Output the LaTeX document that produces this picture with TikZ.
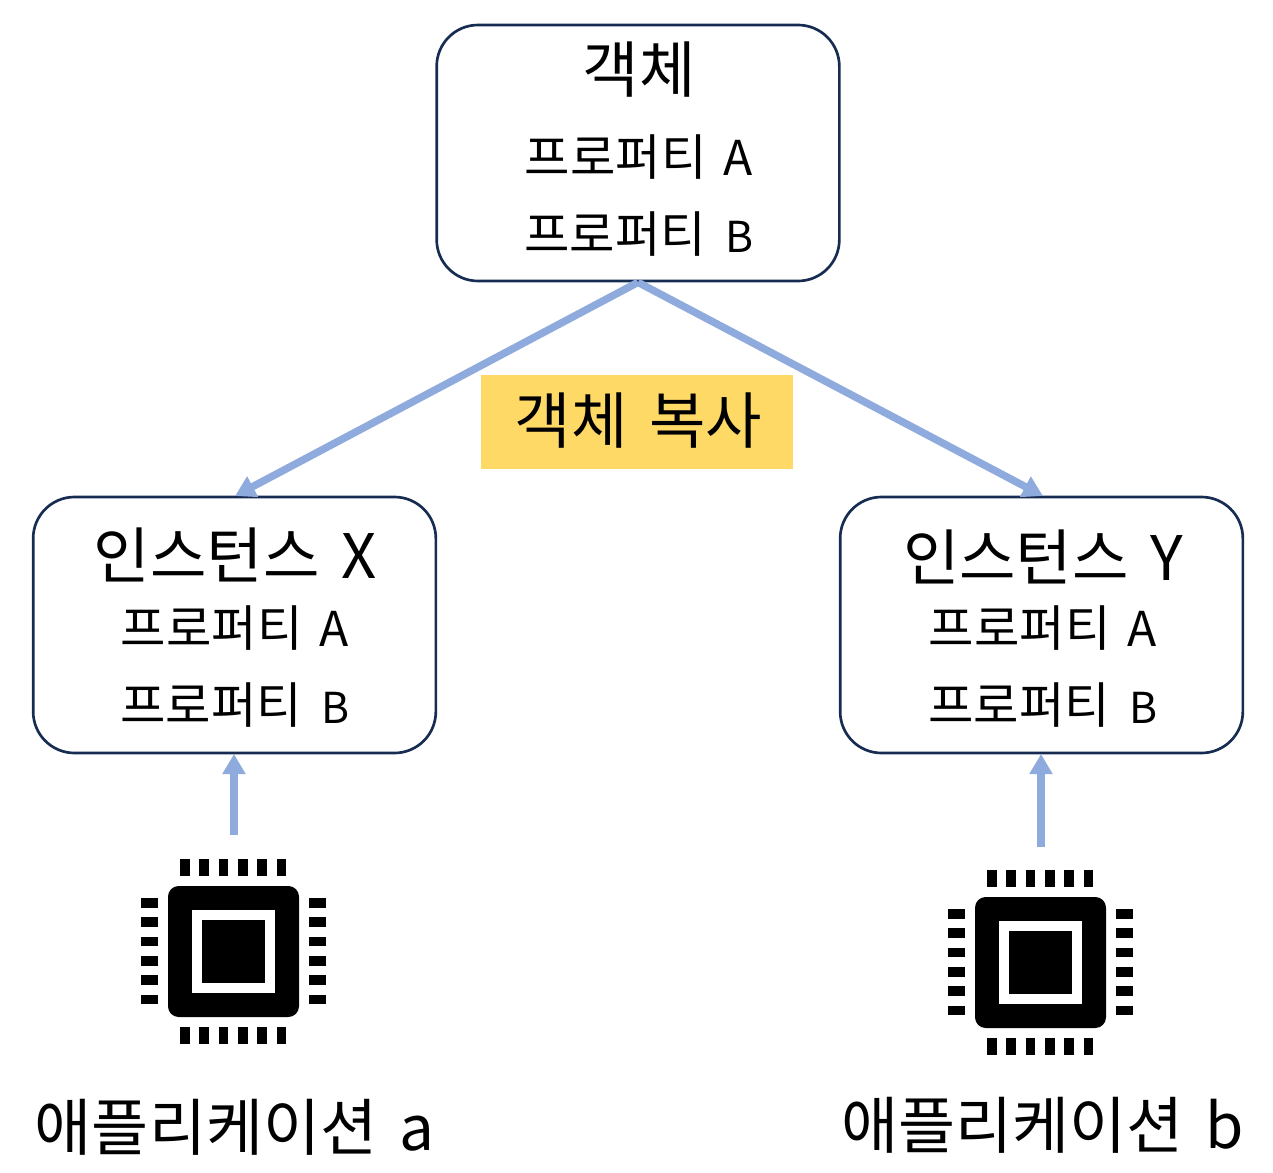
\documentclass[tikz,border=0pt]{standalone}
\usepackage{fontspec}
\setmainfont{Noto Sans CJK KR}
\usetikzlibrary{arrows.meta}
\definecolor{boxline}{HTML}{172C51}
\definecolor{arrowblue}{HTML}{8FAADC}
\definecolor{labelfill}{HTML}{FFD966}
\newcommand{\fsize}[1]{\fontsize{#1}{#1}\selectfont}
\newcommand{\wgap}{\hspace{0.13em}}
\newcommand{\latA}{{\fontsize{36}{36}\selectfont A}}
\newcommand{\latB}{{\fontsize{32}{32}\selectfont\hspace{0.05em}B}}
\tikzset{
  x=0.75pt,y=-0.75pt,
  objbox/.style={draw=boxline,line width=2pt,rounded corners=31pt,fill=white,minimum width=302pt,minimum height=192pt,inner sep=0pt},
  link/.style={draw=arrowblue,line width=5.6pt,-{Triangle[length=15pt,width=16.5pt]}},
  titletext/.style={inner sep=0pt,font=\fsize{46}},
  proptext/.style={inner sep=0pt,font=\fsize{37}},
  apptext/.style={inner sep=0pt,font=\fsize{46.5}},
  chip/.pic={
    \fill[black,rounded corners=8pt] (168,886) rectangle (299,1017);
    \fill[white] (192.3,910) rectangle (275,992.7);
    \fill[black] (202,920) rectangle (265,983);
    \foreach \i in {0,...,5}{
      \fill[black] ({180+19.35*\i},859.3) rectangle ({189.7+19.35*\i},876.3);
      \fill[black] ({180+19.35*\i},1026.7) rectangle ({189.7+19.35*\i},1043.7);
      \fill[black] (141.3,{898+19.35*\i}) rectangle (158.3,{907.7+19.35*\i});
      \fill[black] (308.7,{898+19.35*\i}) rectangle (325.7,{907.7+19.35*\i});
    }
  }
}
\begin{document}
\begin{tikzpicture}
\useasboundingbox (0,0) rectangle (1273,1173);
\node[objbox] (obj) at (638,153) {};
\node[objbox] (instx) at (234.5,625) {};
\node[objbox] (insty) at (1041.5,625) {};
\node[titletext] (objt) at (639,70) {객체};
\node[proptext] (objpa) at (639,157) {프로퍼티\wgap{} \latA};
\node[proptext] (objpb) at (639,234) {프로퍼티\wgap{} \latB};
\node[fill=labelfill,minimum width=234pt,minimum height=70.5pt,inner sep=0pt] (copy) at (637,422) {};
\node[titletext] (copyt) at (638.5,421) {객체\wgap{} 복사};
\node[titletext] (xt) at (235,555) {인스턴스\wgap{} X};
\node[proptext] (xpa) at (235,628) {프로퍼티\wgap{} \latA};
\node[proptext] (xpb) at (235,705) {프로퍼티\wgap{} \latB};
\node[titletext] (yt) at (1043,557) {인스턴스\wgap{} Y};
\node[proptext] (ypa) at (1043,628) {프로퍼티\wgap{} \latA};
\node[proptext] (ypb) at (1043,705) {프로퍼티\wgap{} \latB};
\coordinate (xtop) at (235,496);
\coordinate (ytop) at (1043,496);
\coordinate (appx) at (234,835);
\coordinate (appy) at (1041,847);
\coordinate (xbot) at (234,754);
\coordinate (ybot) at (1041,754);
\draw[link] (obj.south) -- (xtop);
\draw[link] (obj.south) -- (ytop);
\draw[link] (appx) -- (xbot);
\draw[link] (appy) -- (ybot);
\pic at (0,0) {chip};
\pic at (807,11) {chip};
\node[apptext] (appa) at (234.5,1127) {애플리케이션\wgap{} a};
\node[apptext] (appb) at (1042.5,1125) {애플리케이션\wgap{} b};
\end{tikzpicture}
\end{document}
